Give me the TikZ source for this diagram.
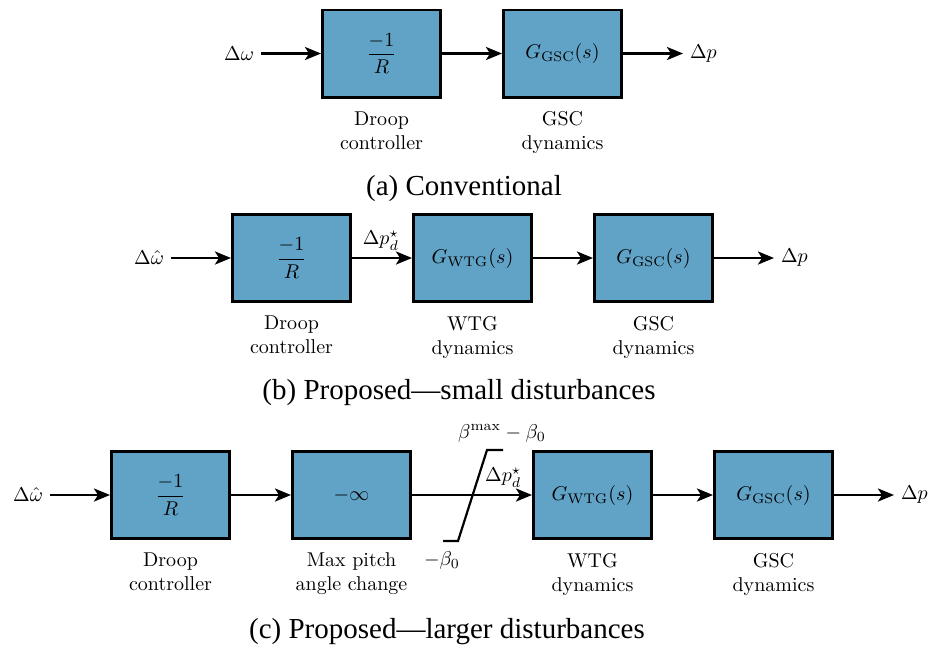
\documentclass[tikz,border=0pt]{standalone}
\usepackage{amsmath}
\usepackage{fontspec}
\newfontfamily\capfont[Ligatures=TeX]{Liberation Serif}
\usetikzlibrary{arrows.meta,positioning}
\definecolor{blockblue}{RGB}{96,163,198}
\tikzset{
  block/.style={draw,fill=blockblue,line width=1.3pt,minimum width=59.2pt,
    minimum height=43.7pt,inner sep=0pt},
  note/.style={align=center},
  caption/.style={font=\capfont\fontsize{14.5}{17}\selectfont},
  sig/.style={-{Stealth[length=8pt,width=6.5pt,inset=2pt]},line width=1.3pt}
}

\begin{document}
\begin{tikzpicture}[x=0.5pt,y=-0.5pt,node distance=30pt]
\useasboundingbox (0,0) rectangle (932,650);
% (a) conventional
\node[block] (droopA) at (381.5,53.5) {$\displaystyle\frac{-1}{R}$};
\node[block,right=of droopA] (gscA) {$G_{\mathrm{GSC}}(s)$};
\node[left=of droopA] (inA) {$\Delta\omega$};
\node[right=of gscA] (outA) {$\Delta p$};
\node[note,below=3pt of droopA] (droopAlbl) {Droop\\controller};
\node[note,below=3pt of gscA] (gscAlbl) {GSC\\dynamics};
\draw[sig] (inA) -- (droopA);
\draw[sig] (droopA) -- (gscA);
\draw[sig] (gscA) -- (outA);
\node[caption] (capA) at (464,189) {(a) Conventional};

% (b) proposed, small disturbances
\node[block] (droopB) at (291.5,258) {$\displaystyle\frac{-1}{R}$};
\node[block,right=of droopB] (wtgB) {$G_{\mathrm{WTG}}(s)$};
\node[block,right=of wtgB] (gscB) {$G_{\mathrm{GSC}}(s)$};
\node[left=of droopB] (inB) {$\Delta\hat{\omega}$};
\node[right=of gscB] (outB) {$\Delta p$};
\node[note,below=3pt of droopB] (droopBlbl) {Droop\\controller};
\node[note,below=3pt of wtgB] (wtgBlbl) {WTG\\dynamics};
\node[note,below=3pt of gscB] (gscBlbl) {GSC\\dynamics};
\draw[sig] (inB) -- (droopB);
\draw[sig] (droopB) -- node[above,pos=0.48] {$\Delta p_d^\star$} (wtgB);
\draw[sig] (wtgB) -- (gscB);
\draw[sig] (gscB) -- (outB);
\node[caption] (capB) at (459,393) {(b) Proposed---small disturbances};

% (c) proposed, larger disturbances
\node[block] (droopC) at (170.5,495) {$\displaystyle\frac{-1}{R}$};
\node[block,right=of droopC] (maxC) {$-\infty$};
\node[block,right=60pt of maxC] (wtgC) {$G_{\mathrm{WTG}}(s)$};
\node[block,right=of wtgC] (gscC) {$G_{\mathrm{GSC}}(s)$};
\node[left=of droopC] (inC) {$\Delta\hat{\omega}$};
\node[right=of gscC] (outC) {$\Delta p$};
\node[note,below=3pt of droopC] (droopClbl) {Droop\\controller};
\node[note,below=3pt of maxC] (maxClbl) {Max pitch\\angle change};
\node[note,below=3pt of wtgC] (wtgClbl) {WTG\\dynamics};
\node[note,below=3pt of gscC] (gscClbl) {GSC\\dynamics};
\draw[sig] (inC) -- (droopC);
\draw[sig] (droopC) -- (maxC);
\draw[sig] (maxC) -- node[above,pos=0.76] (pdC) {$\Delta p_d^\star$} (wtgC);
\draw[sig] (wtgC) -- (gscC);
\draw[sig] (gscC) -- (outC);
% saturation
\draw[line width=1.1pt] (443,541) -- (458,541) -- (487,450) -- (503,450);
\node (satHi) at (502,433) {$\beta^{\max}-\beta_0$};
\node (satLo) at (442,560) {$-\beta_0$};
\node[caption] (capC) at (447,632) {(c) Proposed---larger disturbances};
\end{tikzpicture}
\end{document}
